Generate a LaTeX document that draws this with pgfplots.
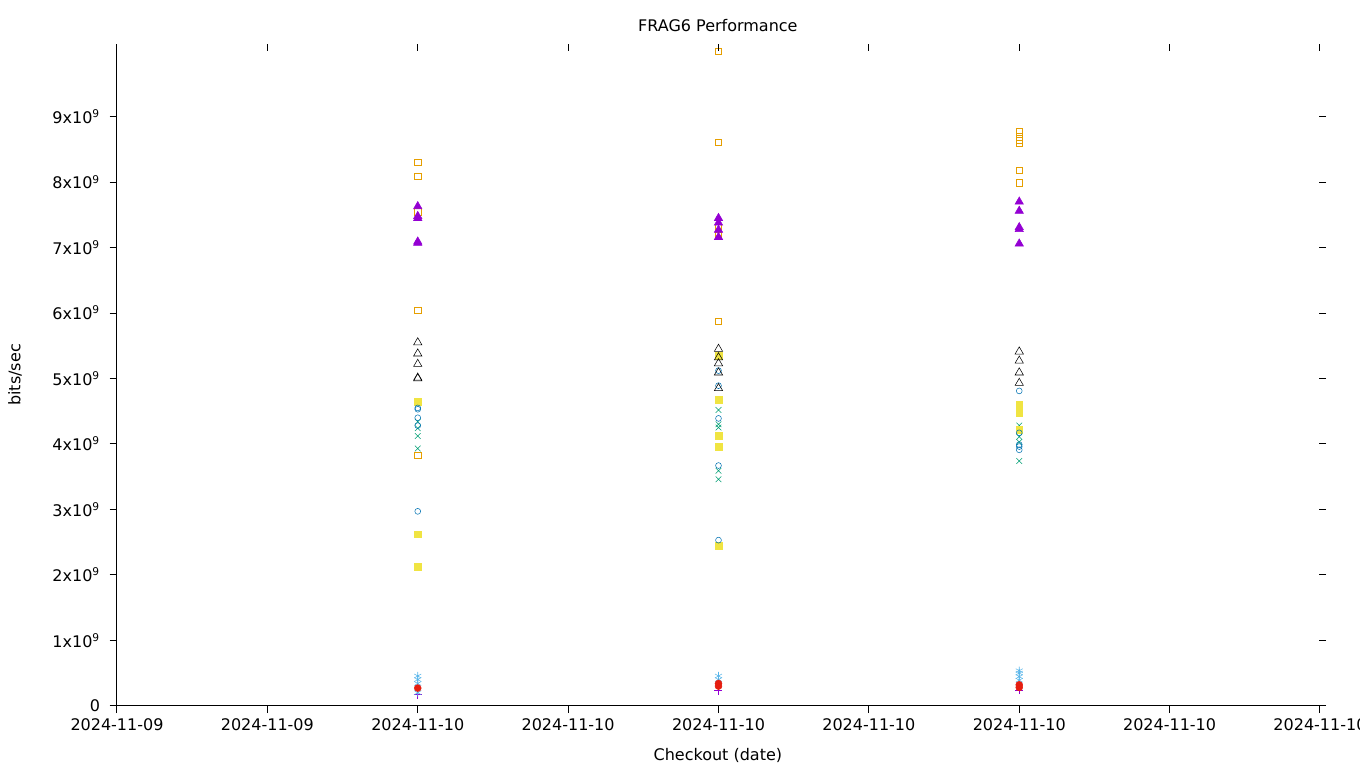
\documentclass[border=0pt]{standalone}
\usepackage{pgfplots}
\pgfplotsset{compat=1.18}
\usepackage{fontspec}
\setmainfont{DejaVu Sans}
\definecolor{gpurple}{HTML}{9400D3}
\definecolor{ggreen}{HTML}{009E73}
\definecolor{glblue}{HTML}{56B4E9}
\definecolor{gorange}{HTML}{E69F00}
\definecolor{gyellow}{HTML}{F0E442}
\definecolor{gblue}{HTML}{0072B2}
\definecolor{gred}{HTML}{E51E10}
\begin{document}
\fontsize{12pt}{14pt}\selectfont
\begin{tikzpicture}
\useasboundingbox (0,0) rectangle (1020pt,576pt);
\pgfplotsset{
  common/.style={
    at={(87.75pt,46.69pt)}, anchor=south west,
    scale only axis, width=906.75pt, height=496.3pt,
    xmin=0, xmax=8.04, ymin=0, ymax=10.11,
    xtick={0,1,...,8}, ytick={0,1,...,9},
    axis line style={draw=none},
    major tick length=5.6pt,
    tick style={black, line width=0.75pt},
    clip=false,
  }
}
\begin{axis}[common,
  tick align=outside, xtick pos=left, ytick pos=left,
  xticklabels={2024-11-09,2024-11-09,2024-11-10,2024-11-10,2024-11-10,2024-11-10,2024-11-10,2024-11-10,2024-11-10},
  yticklabels={0,1x10\textsuperscript{9},2x10\textsuperscript{9},3x10\textsuperscript{9},4x10\textsuperscript{9},5x10\textsuperscript{9},6x10\textsuperscript{9},7x10\textsuperscript{9},8x10\textsuperscript{9},9x10\textsuperscript{9}},
  yticklabel style={xshift=-3pt},
  title={FRAG6 Performance},
  title style={at={(axis description cs:0.497,1.0075)}, anchor=base, inner sep=0pt},
  xlabel={Checkout (date)},
  xlabel style={at={(axis description cs:0.497,-0.082)}, anchor=base, inner sep=0pt},
  ylabel={bits/sec},
  ylabel style={at={(axis description cs:-0.0844,0.5)}, anchor=center, inner sep=0pt},
  every mark/.append style={line width=1pt},
]
\draw[line width=0.75pt] (rel axis cs:0,1) -- (rel axis cs:0,0) -- (rel axis cs:1,0);
% 1 purple +
\addplot[only marks, mark=+, mark size=3pt, gpurple] coordinates {(2,0.17) (4,0.23) (6,0.24)};
% 2 green x
\addplot[only marks, mark=x, mark size=3pt, ggreen] coordinates {
(2,4.34) (2,4.24) (2,4.12) (2,3.93)
(4,4.52) (4,4.30) (4,4.25) (4,3.59) (4,3.46)
(6,4.28) (6,4.11) (6,4.03) (6,3.74)};
% 3 light blue *
\addplot[only marks, mark=asterisk, mark size=3pt, glblue] coordinates {
(2,0.455) (2,0.40) (2,0.34) (2,0.20)
(4,0.455) (4,0.40)
(6,0.535) (6,0.50) (6,0.445) (6,0.39)};
% 4 orange open square
\addplot[only marks, mark=square, mark size=2.4pt, gorange] coordinates {
(2,8.30) (2,8.09) (2,7.55) (2,6.04) (2,3.83)
(4,10.0) (4,8.61) (4,7.31) (4,7.19) (4,5.87)
(6,8.77) (6,8.69) (6,8.64) (6,8.59) (6,8.18) (6,7.99)};
% 5 yellow filled square
\addplot[only marks, mark=square*, mark size=2.6pt, gyellow] coordinates {
(2,4.65) (2,2.62) (2,2.13)
(4,5.34) (4,4.68) (4,4.12) (4,3.95) (4,2.44)
(6,4.60) (6,4.53) (6,4.47) (6,4.22)};
% 6 blue open circle
\addplot[only marks, mark=o, mark size=2.2pt, gblue] coordinates {
(2,4.55) (2,4.53) (2,4.40) (2,4.28) (2,2.97)
(4,5.12) (4,4.89) (4,4.39) (4,3.67) (4,2.53)
(6,4.81) (6,4.17) (6,3.99) (6,3.96) (6,3.91)};
% 7 red filled circle
\addplot[only marks, mark=*, mark size=2.6pt, gred] coordinates {
(2,0.27) (4,0.34) (4,0.30) (6,0.32) (6,0.28)};
% 8 black open triangle
\addplot[only marks, mark=triangle, mark size=3.6pt, black] coordinates {
(2,5.55) (2,5.38) (2,5.22) (2,5.00) (2,5.01)
(4,5.45) (4,5.32) (4,5.23) (4,5.09) (4,4.85)
(6,5.41) (6,5.27) (6,5.09) (6,4.93)};
% 9 purple filled triangle
\addplot[only marks, mark=triangle*, mark size=3.6pt, gpurple] coordinates {
(2,7.63) (2,7.48) (2,7.45) (2,7.09) (2,7.07)
(4,7.45) (4,7.38) (4,7.27) (4,7.16)
(6,7.70) (6,7.56) (6,7.31) (6,7.28) (6,7.06)};
\end{axis}
\begin{axis}[common,
  tick align=inside, xtick pos=right, ytick pos=right,
  xtick={1,2,...,8},
  xticklabels={}, yticklabels={},
]
\end{axis}
\end{tikzpicture}
\end{document}
